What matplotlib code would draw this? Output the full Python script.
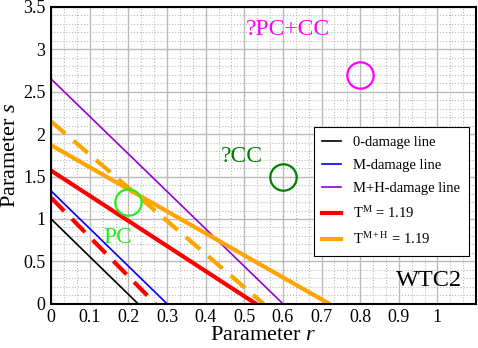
import matplotlib.pyplot as plt
import matplotlib
from matplotlib.ticker import MultipleLocator

matplotlib.rcParams.update(
    {
        'font.family': 'Liberation Serif',
        'font.size': 11,
        'mathtext.fontset': 'custom',
        'mathtext.rm': 'Liberation Serif',
        'mathtext.it': 'Liberation Serif:italic',
    }
)

# damage lines: (s at r=0, r at s=0)
zero_line = [1.0, 0.225]
m_line = [1.33, 0.30]
mh_line = [2.65, 0.60]
tm_solid = [1.57, 0.53]
tm_dashed = [1.25, 0.27]
tmh_solid = [1.87, 0.72]
tmh_dashed = [2.15, 0.55]

# case points
pc_cc = (0.8, 2.7)
cc = (0.6, 1.5)
pc = (0.2, 1.2)

xticks = [0, 0.1, 0.2, 0.3, 0.4, 0.5, 0.6, 0.7, 0.8, 0.9, 1]
xlabels = ['0', '0.1', '0.2', '0.3', '0.4', '0.5', '0.6', '0.7', '0.8', '0.9', '1']
yticks = [0, 0.5, 1, 1.5, 2, 2.5, 3, 3.5]
ylabels = ['0', '0.5', '1', '1.5', '2', '2.5', '3', '3.5']

fig, ax = plt.subplots(figsize=(4.78, 3.48), dpi=100)
fig.subplots_adjust(left=0.107, right=0.996, bottom=0.127, top=0.98)

def seg(p):
    return [0, p[1]], [p[0], 0]

dash = (0, (4.5, 2.6))

x, y = seg(zero_line)
ax.plot(x, y, color='black', lw=1.2, label='0-damage line')
x, y = seg(m_line)
ax.plot(x, y, color='blue', lw=1.2, label='M-damage line')
x, y = seg(mh_line)
ax.plot(x, y, color='#9400D3', lw=1.2, label='M+H-damage line')
x, y = seg(tm_solid)
ax.plot(x, y, color='red', lw=3, label=r'T$^{\mathrm{M}}$ = 1.19')
x, y = seg(tm_dashed)
ax.plot(x, y, color='red', lw=3, ls=dash)
x, y = seg(tmh_solid)
ax.plot(x, y, color='orange', lw=3, label=r'T$^{\mathrm{M+H}}$ = 1.19')
x, y = seg(tmh_dashed)
ax.plot(x, y, color='orange', lw=3, ls=dash)

ax.plot(*pc_cc, 'o', ms=19, mfc='none', mec='magenta', mew=1.6)
ax.plot(*cc, 'o', ms=19, mfc='none', mec='green', mew=1.6)
ax.plot(*pc, 'o', ms=19, mfc='none', mec='#22EE22', mew=1.6)

ax.text(0.505, 3.23, '?PC+CC', color='magenta', fontsize=17, va='center')
ax.text(0.44, 1.74, '?CC', color='green', fontsize=17, va='center')
ax.text(0.135, 0.78, 'PC', color='#22EE22', fontsize=17, va='center')
ax.text(1.065, 0.28, 'WTC2', color='black', fontsize=17.5, va='center', ha='right')

ax.set_xlim(0, 1.1)
ax.set_ylim(0, 3.5)
ax.set_xticks(xticks)
ax.set_xticklabels(xlabels)
ax.set_yticks(yticks)
ax.set_yticklabels(ylabels)
ax.xaxis.set_minor_locator(MultipleLocator(0.1 / 3))
ax.yaxis.set_minor_locator(MultipleLocator(0.1))
ax.grid(which='major', color='#bbbbbb', lw=1)
ax.grid(which='minor', color='#bbbbbb', lw=0.8, ls=':')
ax.set_axisbelow(True)
ax.tick_params(which='both', length=0, labelsize=13, pad=4)
for sp in ax.spines.values():
    sp.set_linewidth(1.5)

ax.set_xlabel(r'Parameter $r$', fontsize=16, labelpad=0)
ax.set_ylabel(r'Parameter $s$', fontsize=16, labelpad=2)

leg = ax.legend(loc='upper right', bbox_to_anchor=(1.0, 0.62), fontsize=10.5,
                fancybox=False, edgecolor='black', framealpha=1,
                handlelength=1.3, borderpad=0.6, labelspacing=0.68)
leg.get_frame().set_linewidth(0.8)

plt.savefig('out.png', dpi=100)
